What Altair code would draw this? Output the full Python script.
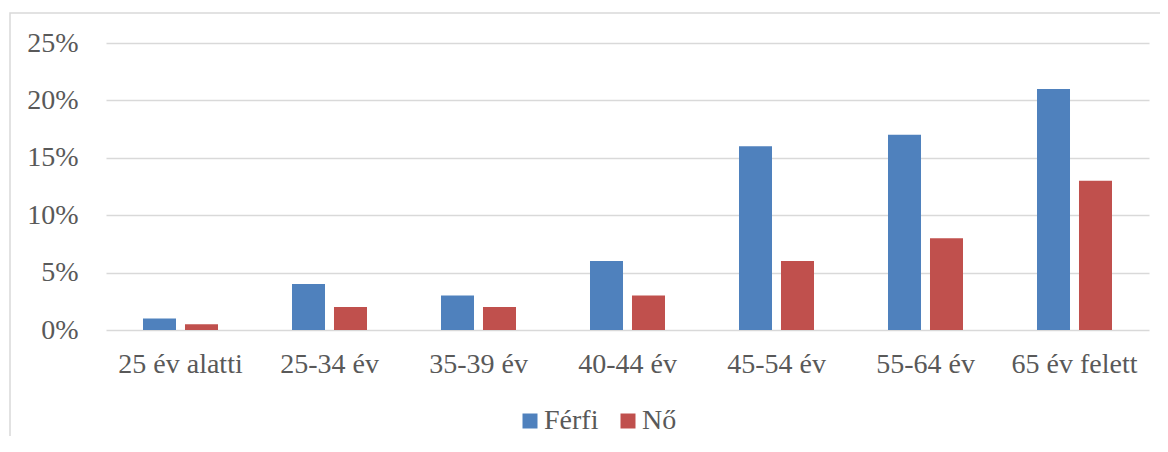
import altair as alt
import pandas as pd

categories = ["25 év alatti", "25-34 év", "35-39 év", "40-44 év", "45-54 év", "55-64 év", "65 év felett"]
ferfi = [1, 4, 3, 6, 16, 17, 21]
no = [0.5, 2, 2, 3, 6, 8, 13]
series = ["Férfi", "Nő"]
colors = ["#4F81BD", "#C0504D"]

rows = []
for c, f, n in zip(categories, ferfi, no):
    rows.append({"cat": c, "series": "Férfi", "value": f / 100})
    rows.append({"cat": c, "series": "Nő", "value": n / 100})
df = pd.DataFrame(rows)

FONT = "Liberation Serif, Times New Roman, DejaVu Serif, serif"
FS = 28
W, H = 1043, 287

bars = alt.Chart(df).mark_bar().encode(
    x=alt.X("cat:N", sort=categories, title=None,
            scale=alt.Scale(paddingInner=0, paddingOuter=0),
            axis=alt.Axis(labelAngle=0, labelFont=FONT, labelFontSize=FS, labelColor="#595959",
                          labelPadding=20, domain=False, ticks=False, grid=False)),
    xOffset=alt.XOffset("series:N", sort=series,
                        scale=alt.Scale(paddingInner=0.214, paddingOuter=0.881)),
    y=alt.Y("value:Q", title=None,
            scale=alt.Scale(domain=[0, 0.25], nice=False),
            axis=alt.Axis(format=".0%", values=[0, 0.05, 0.10, 0.15, 0.20, 0.25],
                          labelFont=FONT, labelFontSize=FS, labelColor="#595959",
                          labelPadding=28, domain=False, ticks=False,
                          gridColor="#D9D9D9", gridWidth=1.5)),
    color=alt.Color("series:N", sort=series, title=None,
                    scale=alt.Scale(domain=series, range=colors),
                    legend=alt.Legend(orient="none", direction="horizontal", legendX=410, legendY=364,
                                      symbolType="square", symbolSize=225, symbolStrokeWidth=0,
                                      labelFont=FONT, labelFontSize=FS, labelColor="#595959",
                                      columnPadding=15, labelOffset=0)),
)

frame = alt.Chart(pd.DataFrame({"a": [0]})).mark_rect(fill="transparent", stroke="#D9D9D9", strokeWidth=1.5).encode(
    x=alt.value(-96), x2=alt.value(1080), y=alt.value(-30), y2=alt.value(430)
)

chart = alt.layer(frame, bars).properties(
    width=W, height=H,
    autosize=alt.AutoSizeParams(type="none"),
    padding={"left": 98, "top": 35, "right": 11, "bottom": 106},
).configure(background="white", font=FONT).configure_view(strokeWidth=0, stroke="transparent")

chart.save("out.html", embed_options={"renderer": "svg", "actions": False})
